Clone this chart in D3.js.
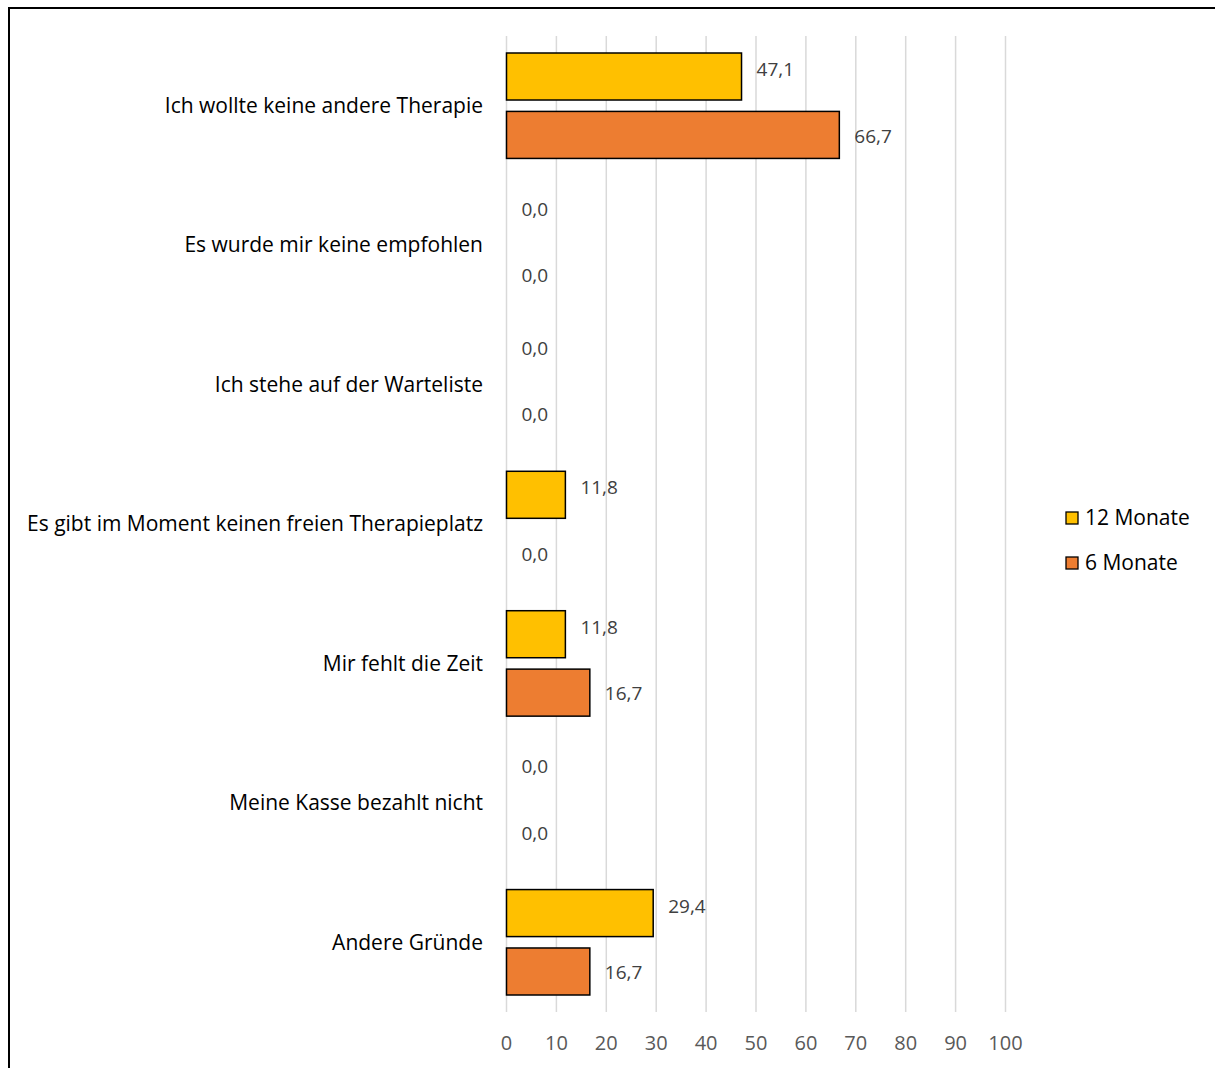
<!DOCTYPE html>
<html>
<head>
<meta charset="utf-8">
<script src="https://cdn.jsdelivr.net/npm/d3@7"></script>
<style>
  body { margin: 0; background: #fff; }
  svg { display: block; font-family: "Open Sans", sans-serif; }
</style>
</head>
<body>
<svg id="chart" width="1215" height="1068"></svg>
<script>
const categories = [
  "Ich wollte keine andere Therapie",
  "Es wurde mir keine empfohlen",
  "Ich stehe auf der Warteliste",
  "Es gibt im Moment keinen freien Therapieplatz",
  "Mir fehlt die Zeit",
  "Meine Kasse bezahlt nicht",
  "Andere Gründe"
];
const seriesNames = ["12 Monate", "6 Monate"];
const months12 = [47.1, 0.0, 0.0, 11.8, 11.8, 0.0, 29.4];
const months6 = [66.7, 0.0, 0.0, 0.0, 16.7, 0.0, 16.7];
const colors = ["#FFC000", "#ED7D31"];
const xTicks = [0, 10, 20, 30, 40, 50, 60, 70, 80, 90, 100];

const svg = d3.select("#chart");

// chart frame (only top and left edges fall inside the picture)
svg.append("rect")
  .attr("x", 9).attr("y", 8)
  .attr("width", 1300).attr("height", 1200)
  .attr("fill", "none").attr("stroke", "#000").attr("stroke-width", 2);

const x = d3.scaleLinear().domain([0, 100]).range([506.5, 1005.5]);
const y = d3.scaleBand().domain(categories).range([36, 1012]);
const inner = d3.scaleBand().domain(seriesNames).range([17, y.bandwidth() - 17]).paddingInner(0.195);
const labelShift = { "12 Monate": -7, "6 Monate": 1 };

// gridlines
svg.append("g")
  .selectAll("line")
  .data(xTicks)
  .join("line")
  .attr("x1", (d) => x(d)).attr("x2", (d) => x(d))
  .attr("y1", 36).attr("y2", 1012)
  .attr("stroke", "#D9D9D9").attr("stroke-width", 1.5);

// x tick labels
svg.append("g")
  .selectAll("text")
  .data(xTicks)
  .join("text")
  .attr("x", (d) => x(d))
  .attr("y", 1050)
  .attr("text-anchor", "middle")
  .attr("font-size", 20)
  .attr("fill", "#595959")
  .text((d) => d);

// category labels
svg.append("g")
  .selectAll("text")
  .data(categories)
  .join("text")
  .attr("x", 483)
  .attr("y", (d) => y(d) + y.bandwidth() / 2)
  .attr("dy", "0.35em")
  .attr("text-anchor", "end")
  .attr("font-size", 21)
  .attr("fill", "#000")
  .text((d) => d);

const rows = categories.map((c, i) => ({
  cat: c,
  values: [
    { series: seriesNames[0], value: months12[i], color: colors[0] },
    { series: seriesNames[1], value: months6[i], color: colors[1] }
  ]
}));

const groups = svg.append("g")
  .selectAll("g")
  .data(rows)
  .join("g")
  .attr("transform", (d) => `translate(0,${y(d.cat)})`);

groups.selectAll("rect")
  .data((d) => d.values.filter((v) => v.value > 0))
  .join("rect")
  .attr("x", x(0))
  .attr("y", (d) => inner(d.series))
  .attr("width", (d) => x(d.value) - x(0))
  .attr("height", inner.bandwidth())
  .attr("fill", (d) => d.color)
  .attr("stroke", "#000")
  .attr("stroke-width", 1.5);

groups.selectAll("text")
  .data((d) => d.values)
  .join("text")
  .attr("x", (d) => x(d.value) + 15)
  .attr("y", (d) => inner(d.series) + inner.bandwidth() / 2 + labelShift[d.series])
  .attr("dy", "0.35em")
  .attr("font-size", 19)
  .attr("fill", "#404040")
  .text((d) => d.value.toFixed(1).replace(".", ","));

// legend
const legend = svg.append("g")
  .selectAll("g")
  .data(seriesNames)
  .join("g")
  .attr("transform", (d, i) => `translate(1066,${518 + i * 45})`);

legend.append("rect")
  .attr("x", 0).attr("y", -6)
  .attr("width", 12).attr("height", 12)
  .attr("fill", (d, i) => colors[i])
  .attr("stroke", "#000").attr("stroke-width", 1.3);

legend.append("text")
  .attr("x", 19).attr("y", 0)
  .attr("dy", "0.35em")
  .attr("font-size", 21)
  .attr("fill", "#000")
  .text((d) => d);
</script>
</body>
</html>
